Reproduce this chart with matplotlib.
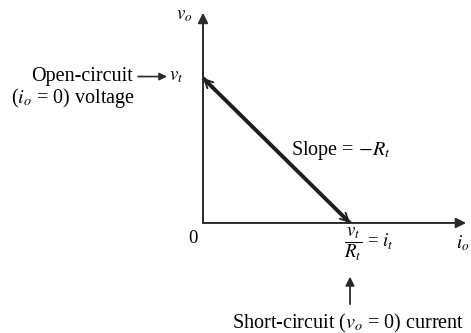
import matplotlib
matplotlib.use('Agg')
import matplotlib.pyplot as plt

# Thevenin source characteristic: v_o against i_o
v_t = 1.0          # open-circuit voltage (normalised)
i_t = 1.0          # short-circuit current (normalised)
line_i = [0.0, i_t]
line_v = [v_t, 0.0]

plt.rcParams['font.family'] = ['Liberation Serif', 'DejaVu Serif']
plt.rcParams['mathtext.fontset'] = 'stix'

fig = plt.figure(figsize=(4.71, 3.33), dpi=100)
ax = fig.add_axes([0, 0, 1, 1])
# axis limits chosen so the origin sits where it does in the sketch
ax.set_xlim(-1.381, 1.823)
ax.set_ylim(-0.759, 1.538)
ax.axis('off')

fs = 14.5
ink = '#2a2a2a'
# axes with arrow heads
ax.annotate('', xy=(1.79, 0), xytext=(0, 0),
            arrowprops=dict(arrowstyle='-|>', color=ink, lw=1.4,
                            mutation_scale=15, shrinkA=0, shrinkB=0))
ax.annotate('', xy=(0, 1.45), xytext=(0, 0),
            arrowprops=dict(arrowstyle='-|>', color=ink, lw=1.4,
                            mutation_scale=15, shrinkA=0, shrinkB=0))

# load line, with the small open heads at both ends
ax.plot(line_i, line_v, color='#1e1e1e', lw=2.8, solid_capstyle='butt')
ax.annotate('', xy=(line_i[0], line_v[0]), xytext=(line_i[1], line_v[1]),
            arrowprops=dict(arrowstyle='<->, head_length=0.5, head_width=0.25',
                            color='#1e1e1e', lw=1.3, mutation_scale=12,
                            shrinkA=0, shrinkB=0))

# labels
ax.text(-0.13, 1.43, r'$v_o$', fontsize=fs - 1, ha='center', va='center')
ax.text(1.72, -0.14, r'$i_o$', fontsize=fs - 1, ha='left', va='center')
ax.text(-0.07, -0.11, '0', fontsize=fs - 1, ha='center', va='center')
ax.text(-0.18, v_t + 0.01, r'$v_t$', fontsize=fs - 1, ha='center', va='center')

ax.annotate('Open-circuit', xy=(-0.245, v_t + 0.01), xytext=(-0.48, v_t + 0.01),
            fontsize=fs, ha='right', va='center',
            arrowprops=dict(arrowstyle='-|>', color=ink, lw=1.2,
                            mutation_scale=11, shrinkA=2, shrinkB=0))
ax.text(-0.46, v_t - 0.135, r'($i_o$ = 0) voltage', fontsize=fs, ha='right', va='center')

ax.text(0.60, 0.50, r'Slope = $-R_t$', fontsize=fs, ha='left', va='center')

ax.text(1.13, -0.15, r'$\dfrac{v_t}{R_t}$ = $i_t$', fontsize=fs - 1,
        ha='center', va='center')

ax.annotate('', xy=(i_t, -0.37), xytext=(i_t, -0.56),
            arrowprops=dict(arrowstyle='-|>', color=ink, lw=1.3,
                            mutation_scale=13, shrinkA=0, shrinkB=0))
ax.text(0.99, -0.69, r'Short-circuit ($v_o$ = 0) current', fontsize=fs,
        ha='center', va='center')

fig.savefig('out.png', dpi=100, facecolor='white')
